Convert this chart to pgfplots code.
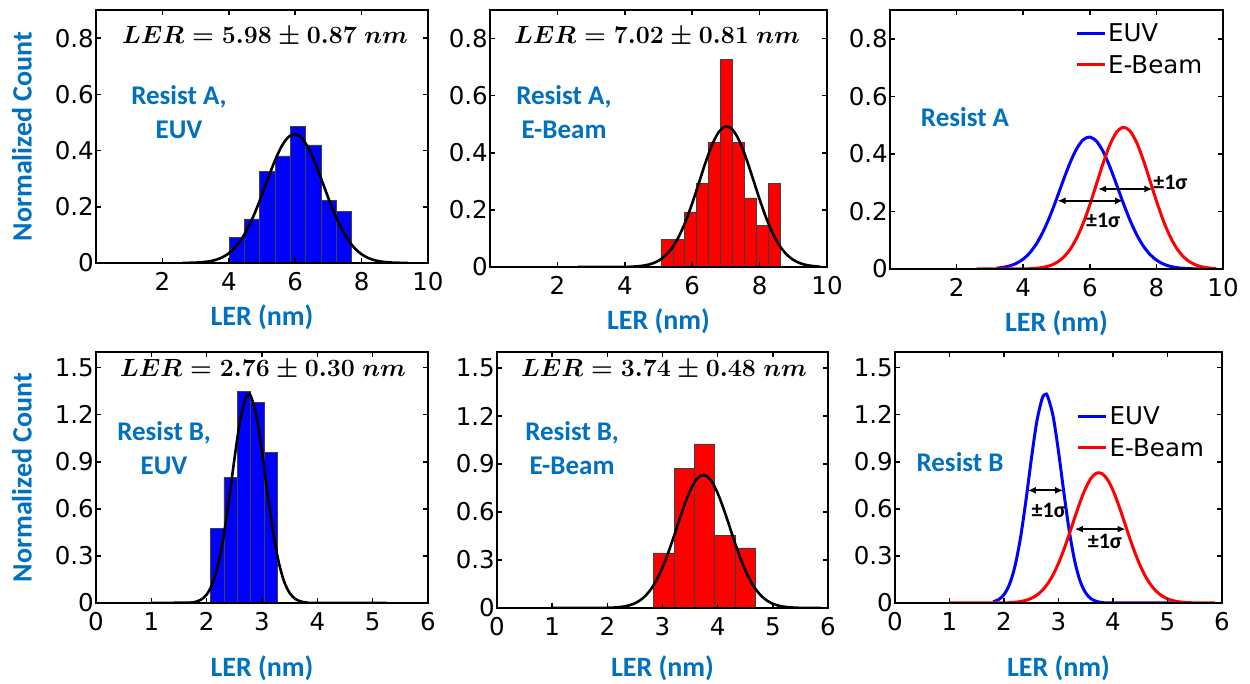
\documentclass[border=0pt]{standalone}
\usepackage[no-math]{fontspec}
\setmainfont{Liberation Sans}
\newfontfamily\calibri{Carlito}
\newfontfamily\djv{DejaVu Sans}
\usepackage{pgfplots}
\pgfplotsset{compat=1.18}
\usepackage{pgfplotstable}
\usetikzlibrary{arrows.meta}
\definecolor{resblue}{RGB}{0,112,192}

\pgfplotstableread{
x y
2.6 0
3.0 0.0013
3.2 0.0028
3.4 0.0056
3.6 0.0109
3.8 0.0199
4.0 0.0344
4.2 0.0565
4.4 0.0881
4.6 0.1303
4.8 0.1827
5.0 0.2432
5.2 0.3069
5.4 0.3672
5.6 0.4169
5.8 0.4489
6.0 0.4585
6.2 0.4442
6.4 0.4081
6.6 0.3558
6.8 0.2941
7.0 0.2306
7.2 0.1716
7.4 0.1211
7.6 0.0810
7.8 0.0514
8.0 0.0310
8.2 0.0177
8.4 0.0096
8.6 0.0049
8.8 0.0024
9.0 0.0011
9.4 0
}\gAeuv

\pgfplotstableread{
x y
2.6 0
4.0 0.0005
4.2 0.0011
4.4 0.0026
4.6 0.0057
4.8 0.0115
5.0 0.0220
5.2 0.0395
5.4 0.0666
5.6 0.1059
5.8 0.1584
6.0 0.2229
6.2 0.2950
6.4 0.3675
6.6 0.4305
6.8 0.4747
7.0 0.4923
7.2 0.4805
7.4 0.4412
7.6 0.3811
7.8 0.3097
8.0 0.2369
8.2 0.1704
8.4 0.1154
8.6 0.0735
8.8 0.0440
9.0 0.0248
9.2 0.0132
9.4 0.0066
9.6 0.0031
9.8 0.0010
}\gAeb

\pgfplotstableread{
x y
1.0 0
1.7 0.0026
1.8 0.0079
1.9 0.0218
2.0 0.0537
2.1 0.1182
2.2 0.2329
2.3 0.4104
2.4 0.6473
2.5 0.9134
2.6 1.1534
2.7 1.3035
2.76 1.3298
2.8 1.3180
2.9 1.1925
3.0 0.9656
3.1 0.6997
3.2 0.4536
3.3 0.2632
3.4 0.1366
3.5 0.0635
3.6 0.0264
3.7 0.0098
3.8 0.0033
3.9 0.0010
5.25 0
}\gBeuv

\pgfplotstableread{
x y
1.0 0
2.0 0.0012
2.1 0.0024
2.2 0.0048
2.3 0.0092
2.4 0.0169
2.5 0.0295
2.6 0.0495
2.7 0.0795
2.8 0.1222
2.9 0.1798
3.0 0.2532
3.1 0.3417
3.2 0.4414
3.3 0.5460
3.4 0.6467
3.5 0.7335
3.6 0.7965
3.7 0.8282
3.8 0.8246
3.9 0.7862
4.0 0.7177
4.1 0.6273
4.2 0.5251
4.3 0.4208
4.4 0.3229
4.5 0.2373
4.6 0.1670
4.7 0.1125
4.8 0.0726
4.9 0.0448
5.0 0.0265
5.1 0.0150
5.2 0.0081
5.3 0.0042
5.4 0.0021
5.5 0.0010
5.87 0
}\gBeb

\newcommand{\lereq}[2]{{\boldmath$LER = #1 \pm #2\ nm$}}

\tikzset{
  sig/.style={{Latex[length=8pt,width=7pt]}-{Latex[length=8pt,width=7pt]}, line width=1.8pt, black},
  siglab/.style={font=\fontsize{22}{22}\selectfont\calibri\bfseries},
  res/.style={font=\fontsize{27}{34}\selectfont\calibri\bfseries, text=resblue, align=center},
  eqnlab/.style={font=\fontsize{27.5}{27.5}\selectfont},
}

\pgfplotsset{
  panel/.style={
    scale only axis, anchor=south west, axis on top,
    axis line style={line width=2.2pt},
    tick align=inside,
    major tick length=5pt,
    every tick/.style={line width=1.5pt, black},
    tick label style={font=\fontsize{24.5}{24.5}\selectfont\djv},
    xticklabel style={yshift=-6pt},
    /pgf/number format/assume math mode=true,
    xlabel={LER (nm)},
    xlabel style={font=\fontsize{28}{28}\selectfont\calibri\bfseries, text=resblue, anchor=center},
    ylabel style={font=\fontsize{28}{28}\selectfont\calibri\bfseries, text=resblue, anchor=center},
    yticklabel style={inner sep=2pt},
  },
  toprow/.style={xmin=0, xmax=10, ymin=0, ymax=0.9,
    xtick={2,4,6,8,10}, xticklabels={2,4,6,8,10},
    ytick={0,0.2,0.4,0.6,0.8}, yticklabels={0,0.2,0.4,0.6,0.8},
    xlabel style={at={(axis description cs:0.5,0)}, yshift=-54pt}},
  botrow/.style={xmin=0, xmax=6, ymin=0, ymax=1.6,
    xtick={0,1,2,3,4,5,6}, xticklabels={0,1,2,3,4,5,6},
    ytick={0,0.3,0.6,0.9,1.2,1.5}, yticklabels={0,0.3,0.6,0.9,1.2,1.5},
    xlabel style={at={(axis description cs:0.5,0)}, yshift=-65pt}},
  hist/.style={ybar interval, draw=black!75, line width=0.6pt},
  fit/.style={black, line width=2.6pt, smooth},
  cmp/.style={legend style={draw=none, fill=none, anchor=north west,
      font=\fontsize{24.5}{26}\selectfont\djv, inner sep=0pt, row sep=8pt,
      nodes={inner sep=2pt}},
    legend cell align=left,
    legend image code/.code={\draw[##1] (0pt,0pt) -- (28pt,0pt);}},
}

\begin{document}
\begin{tikzpicture}
\useasboundingbox (0,0) rectangle (1250pt,684pt);

% ---- Panel 1: Resist A, EUV
\begin{axis}[panel, toprow, at={(96pt,421pt)}, width=332pt, height=253pt,
  ylabel={Normalized Count}, ylabel style={at={(axis description cs:-0.223,0.5)}}]
\addplot[hist, fill=blue] coordinates {(4.010,0.091) (4.471,0.157) (4.932,0.327) (5.393,0.381) (5.854,0.485) (6.315,0.420) (6.776,0.222) (7.237,0.184) (7.698,0)};
\addplot[fit] table {\gAeuv};
\end{axis}

% ---- Panel 2: Resist A, E-Beam
\begin{axis}[panel, toprow, at={(490pt,417pt)}, width=337pt, height=257pt]
\addplot[hist, fill=red] coordinates {(5.070,0.096) (5.425,0.096) (5.780,0.193) (6.135,0.292) (6.490,0.436) (6.845,0.728) (7.200,0.436) (7.555,0.242) (7.910,0.146) (8.265,0.292) (8.620,0)};
\addplot[fit] table {\gAeb};
\end{axis}

% ---- Panel 3: Resist A comparison
\begin{axis}[panel, toprow, cmp, at={(890pt,415pt)}, width=333pt, height=259pt,
  legend style={at={(axis description cs:0.555,0.955)}}]
\addplot[blue, line width=3pt, smooth, restrict x to domain=3.2:10] table {\gAeuv};
\addlegendentry{EUV}
\addplot[red, line width=3pt, smooth] table {\gAeb};
\addlegendentry{E-Beam}
\draw[sig] (axis cs:5.03,0.237) -- (axis cs:7.0,0.237);
\draw[sig] (axis cs:6.25,0.278) -- (axis cs:7.88,0.278);
\node[siglab] at (axis cs:6.4,0.170) {±1σ};
\node[siglab] at (axis cs:8.42,0.300) {±1σ};
\end{axis}

% ---- Panel 4: Resist B, EUV
\begin{axis}[panel, botrow, at={(96pt,81pt)}, width=332pt, height=251pt,
  ylabel={Normalized Count}, ylabel style={at={(axis description cs:-0.223,0.5)}}]
\addplot[hist, fill=blue] coordinates {(2.071,0.475) (2.313,0.800) (2.554,1.350) (2.796,1.280) (3.037,0.960) (3.279,0)};
\addplot[fit] table {\gBeuv};
\end{axis}

% ---- Panel 5: Resist B, E-Beam
\begin{axis}[panel, botrow, at={(497pt,76pt)}, width=331pt, height=256pt,
  xlabel style={yshift=5pt}]
\addplot[hist, fill=red] coordinates {(2.842,0.344) (3.209,0.873) (3.577,1.025) (3.945,0.456) (4.312,0.375) (4.680,0)};
\addplot[fit] table {\gBeb};
\end{axis}

% ---- Panel 6: Resist B comparison
\begin{axis}[panel, botrow, cmp, at={(895pt,81pt)}, width=327pt, height=251pt,
  legend style={at={(axis description cs:0.555,0.79)}}]
\addplot[blue, line width=3pt, smooth, restrict x to domain=1.75:10] table {\gBeuv};
\addlegendentry{EUV}
\addplot[red, line width=3pt, smooth] table {\gBeb};
\addlegendentry{E-Beam}
\draw[sig] (axis cs:2.436,0.718) -- (axis cs:3.086,0.718);
\draw[sig] (axis cs:3.30,0.471) -- (axis cs:4.23,0.471);
\node[siglab] at (axis cs:2.82,0.590) {±1σ};
\node[siglab] at (axis cs:3.85,0.390) {±1σ};
\end{axis}

% ---- Annotations
\node[res] at (179pt,572pt) {Resist A,\\EUV};
\node[res] at (564pt,572pt) {Resist A,\\E-Beam};
\node[res] at (965pt,567pt) {Resist A};
\node[res] at (164pt,236pt) {Resist B,\\EUV};
\node[res] at (572pt,236pt) {Resist B,\\E-Beam};
\node[res] at (960pt,222pt) {Resist B};

\node[eqnlab] at (265pt,647pt) {\lereq{5.98}{0.87}};
\node[eqnlab] at (657pt,647pt) {\lereq{7.02}{0.81}};
\node[eqnlab] at (263pt,314pt) {\lereq{2.76}{0.30}};
\node[eqnlab] at (664pt,314pt) {\lereq{3.74}{0.48}};
\end{tikzpicture}
\end{document}
